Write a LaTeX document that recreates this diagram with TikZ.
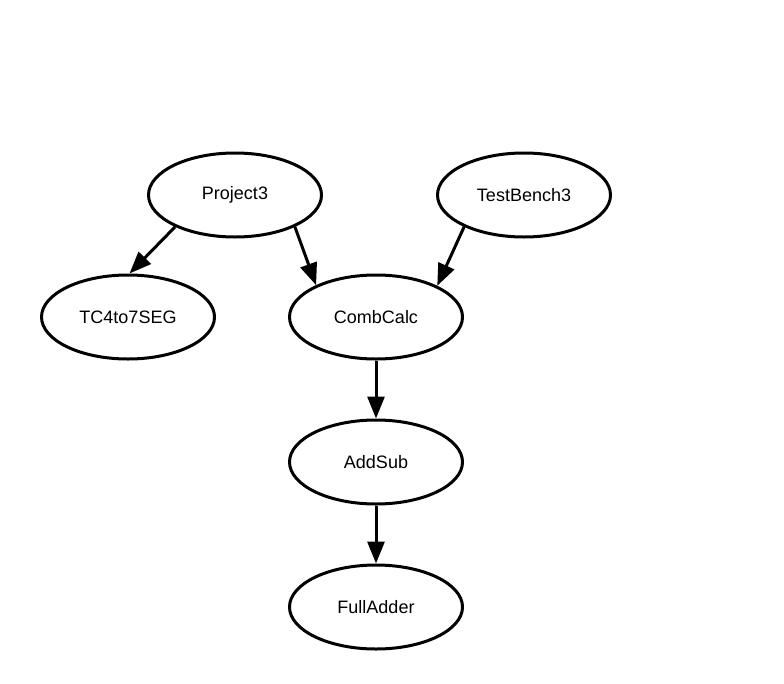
\documentclass[tikz,border=0pt]{standalone}
\usepackage{fontspec}
\setmainfont{Liberation Sans}
\usetikzlibrary{arrows.meta, shapes.geometric}
\tikzset{
  every picture/.style={line width=3pt},
  module/.style={draw, ellipse, minimum width=173pt, minimum height=84pt, inner sep=0pt, font=\fontsize{18}{20}\selectfont},
  arrow/.style={-{Triangle[length=22pt, width=17pt]}, line width=3pt},
}

\begin{document}
\begin{tikzpicture}[x=1pt, y=-1pt]
  \useasboundingbox (0,0) rectangle (784,683);
  % modules
  \node[module] (proj) at (235,195) {Project3};
  \node[module] (tb)   at (524,195) {TestBench3};
  \node[module] (tc)   at (128,317) {TC4to7SEG};
  \node[module] (cc)   at (376,317) {CombCalc};
  \node[module] (as)   at (376,462) {AddSub};
  \node[module] (fa)   at (376,607) {FullAdder};
  % dependencies
  \draw[arrow] (proj.208) -- (tc.88);
  \draw[arrow] (proj.332) -- (cc.152);
  \draw[arrow] (tb.208) -- (cc.27);
  \draw[arrow] (cc.south) -- (as.north);
  \draw[arrow] (as.south) -- (fa.north);
\end{tikzpicture}
\end{document}
